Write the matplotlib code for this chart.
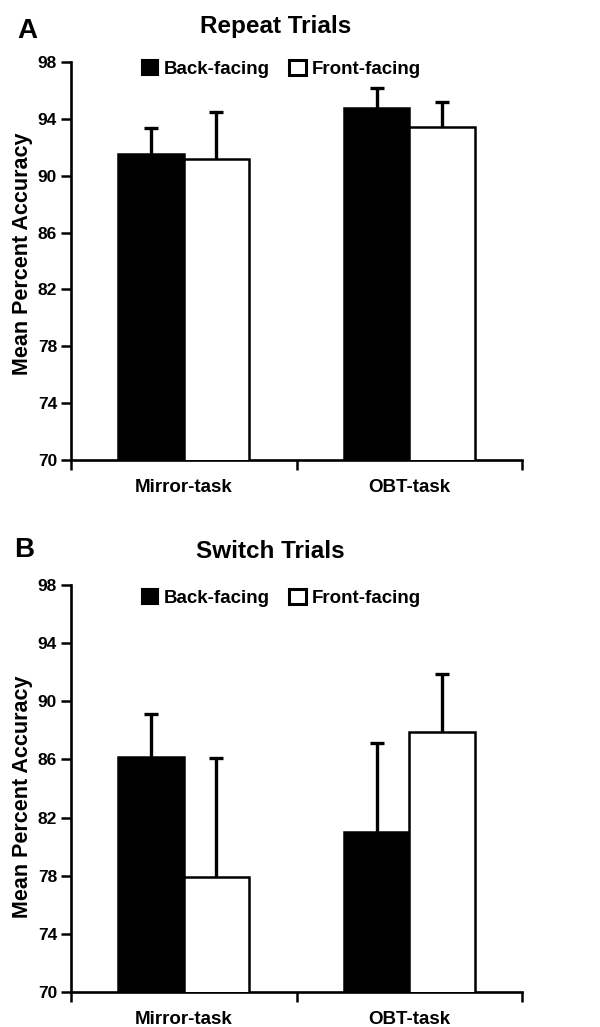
import matplotlib
matplotlib.use("Agg")
import matplotlib.pyplot as plt
from matplotlib.patches import Patch
import numpy as np

FONT = "Liberation Sans"

categories = ["Mirror-task", "OBT-task"]
series = ["Back-facing", "Front-facing"]
titles = ["Repeat Trials", "Switch Trials"]
panel_letters = ["A", "B"]
yticks = [70, 74, 78, 82, 86, 90, 94, 98]

repeat_back = [91.5, 94.75]
repeat_back_err = [1.85, 1.4]
repeat_front = [91.15, 93.4]
repeat_front_err = [3.35, 1.8]

switch_back = [86.15, 81.0]
switch_back_err = [2.95, 6.15]
switch_front = [77.9, 87.9]
switch_front_err = [8.2, 3.95]

panels = [
    (repeat_back, repeat_back_err, repeat_front, repeat_front_err),
    (switch_back, switch_back_err, switch_front, switch_front_err),
]

fig = plt.figure(figsize=(6.0, 10.27), dpi=100)
W, H = 600, 1027
# axes rectangles in pixel coordinates: left, top(98), right, bottom(70)
rects = [(71, 62, 522, 460), (71, 585, 522, 992)]
title_x = [276, 270]
title_y = [27, 552]
letter_xy = [(27, 31), (24, 550)]
legend_y = [69, 598]
ylabel_center_y = [254, 797]

bw = 0.29
for i, (b, be, f, fe) in enumerate(panels):
    l, t, r, bt = rects[i]
    ax = fig.add_axes([l / W, 1 - bt / H, (r - l) / W, (bt - t) / H])
    x = np.arange(len(categories))
    ax.bar(x - bw / 2, b, width=bw, color="black", edgecolor="black", linewidth=1.8, zorder=3)
    ax.bar(x + bw / 2, f, width=bw, color="white", edgecolor="black", linewidth=1.8, zorder=3)
    for xs, vals, errs in ((x - bw / 2, b, be), (x + bw / 2, f, fe)):
        _, caps, _ = ax.errorbar(xs, vals, yerr=[np.zeros(len(vals)), errs], fmt="none",
                                 ecolor="black", elinewidth=2.4, capsize=4.8, capthick=2.4, zorder=2)
        caps[0].set_visible(False)
    ax.set_xlim(-0.5, 1.5)
    ax.set_ylim(70, 98)
    ax.set_yticks(yticks)
    ax.set_yticklabels([str(v) for v in yticks], fontfamily=FONT, fontweight="bold", fontsize=12.5)
    ax.set_xticks([-0.5, 0.5, 1.5])
    ax.set_xticklabels([])
    ax.set_xticks(x, minor=True)
    ax.set_xticklabels(categories, minor=True, fontfamily=FONT, fontweight="bold", fontsize=13.5)
    ax.tick_params(axis="x", which="minor", length=0, pad=14)
    ax.tick_params(axis="x", which="major", direction="out", length=7, width=1.8)
    ax.tick_params(axis="y", direction="out", length=7, width=1.8, pad=3)
    for s in ["top", "right"]:
        ax.spines[s].set_visible(False)
    for s in ["left", "bottom"]:
        ax.spines[s].set_linewidth(1.9)
    ax.set_ylabel("Mean Percent Accuracy", fontfamily=FONT, fontweight="bold", fontsize=15.5)
    ax.yaxis.set_label_coords((33 - l) / (r - l), 1 - (ylabel_center_y[i] - t) / (bt - t))
    handles = [Patch(facecolor="black", edgecolor="black", linewidth=1.5),
               Patch(facecolor="white", edgecolor="black", linewidth=2.2)]
    lx = (281 - l) / (r - l)
    ly = 1 - (legend_y[i] - t) / (bt - t)
    ax.legend(handles, series, loc="center", bbox_to_anchor=(lx, ly), ncol=2, frameon=False,
              handlelength=0.9, handleheight=0.9, handletextpad=0.3, columnspacing=1.0,
              borderpad=0, prop={"family": FONT, "weight": "bold", "size": 13.5})
    fig.text(title_x[i] / W, 1 - title_y[i] / H, titles[i], ha="center", va="center",
             fontfamily=FONT, fontweight="bold", fontsize=17.5)
    fig.text(letter_xy[i][0] / W, 1 - letter_xy[i][1] / H, panel_letters[i], ha="center", va="center",
             fontfamily=FONT, fontweight="bold", fontsize=20)

fig.savefig("out.png", dpi=100)
